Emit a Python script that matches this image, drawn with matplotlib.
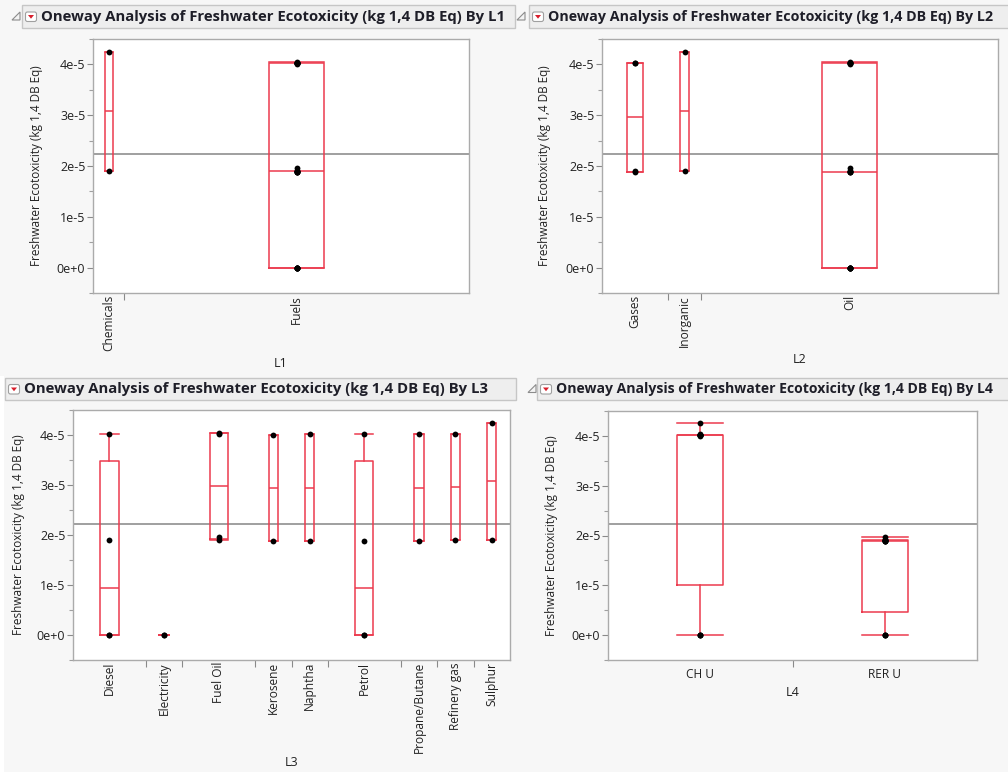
"""
JMP風 Oneway Analysis (箱ひげ図) 4パネルの再現
"""

import matplotlib.pyplot as plt
import numpy as np
from matplotlib.patches import Rectangle, Polygon, FancyBboxPatch
from matplotlib.ticker import MultipleLocator

plt.rcParams['font.family'] = ['Open Sans', 'DejaVu Sans']

# 観測値 (kg 1,4 DB Eq) 1行 = 1観測
values = [0.0, 0.0, 1.90e-5, 4.02e-5,
          0.0, 0.0,
          1.90e-5, 1.96e-5, 4.02e-5, 4.04e-5,
          1.88e-5, 4.00e-5,
          1.88e-5, 4.02e-5,
          0.0, 0.0, 1.88e-5, 4.02e-5,
          1.88e-5, 4.02e-5,
          1.90e-5, 4.02e-5,
          1.90e-5, 4.25e-5]

L1 = ['Fuels'] * 22 + ['Chemicals'] * 2

L2 = ['Oil', 'Oil', 'Oil', 'Oil',
      'Oil', 'Oil',
      'Oil', 'Oil', 'Oil', 'Oil',
      'Oil', 'Oil',
      'Oil', 'Oil',
      'Oil', 'Oil', 'Oil', 'Oil',
      'Gases', 'Gases',
      'Gases', 'Gases',
      'Inorganic', 'Inorganic']

L3 = ['Diesel', 'Diesel', 'Diesel', 'Diesel',
      'Electricity', 'Electricity',
      'Fuel Oil', 'Fuel Oil', 'Fuel Oil', 'Fuel Oil',
      'Kerosene', 'Kerosene',
      'Naphtha', 'Naphtha',
      'Petrol', 'Petrol', 'Petrol', 'Petrol',
      'Propane/Butane', 'Propane/Butane',
      'Refinery gas', 'Refinery gas',
      'Sulphur', 'Sulphur']

L4 = ['CH U', 'RER U', 'RER U', 'CH U',
      'CH U', 'RER U',
      'RER U', 'RER U', 'CH U', 'CH U',
      'RER U', 'CH U',
      'RER U', 'CH U',
      'CH U', 'RER U', 'RER U', 'CH U',
      'RER U', 'CH U',
      'RER U', 'CH U',
      'RER U', 'CH U']

ytick_values = [0.0, 1e-5, 2e-5, 3e-5, 4e-5]
ytick_labels = ['0e+0', '1e-5', '2e-5', '3e-5', '4e-5']

y_title = 'Freshwater Ecotoxicity (kg 1,4 DB Eq)'
head_title = 'Oneway Analysis of Freshwater Ecotoxicity (kg 1,4 DB Eq) By '

W, H = 1008, 772
RED = '#EC3B4E'
TXT = '#222222'
FRAME = '#ABABAB'

fig = plt.figure(figsize=(W / 100, H / 100), dpi=100)
fig.patch.set_facecolor('#F7F7F7')

# 背景用(ピクセル座標)
bg = fig.add_axes([0, 0, 1, 1], zorder=0)
bg.set_xlim(0, W)
bg.set_ylim(H, 0)
bg.axis('off')
bg.add_patch(Rectangle((0, 376), 4, H - 376, facecolor='white', edgecolor='none'))


def header(x0, x1, y0, y1, text, tri_x=None, size=10.7):
    yc = (y0 + y1) / 2
    bg.add_patch(Rectangle((x0, y0), x1 - x0, y1 - y0, facecolor='#EEEEEE',
                           edgecolor='#C6C6C6', lw=1))
    if tri_x is not None:
        bg.add_patch(Polygon([(tri_x, yc + 3.5), (tri_x + 8, yc - 4.5), (tri_x + 8, yc + 3.5)],
                             closed=True, facecolor='#F4F4F4', edgecolor='#8C8C8C', lw=0.8))
    ix = x0 + 3.5
    bg.add_patch(FancyBboxPatch((ix, yc - 4.5), 11, 9.5,
                                boxstyle='round,pad=0,rounding_size=2',
                                facecolor='white', edgecolor='#A0A0A0', lw=0.8))
    bg.add_patch(Polygon([(ix + 2.5, yc - 1.5), (ix + 8.5, yc - 1.5), (ix + 5.5, yc + 2.2)],
                         closed=True, facecolor='#D81E2C', edgecolor='none'))
    bg.text(x0 + 19, yc + 0.5, text, fontsize=size, fontweight='bold', color='#1E1E28',
            ha='left', va='center')


def oneway(rect, groups, name, rotate, ylab_x, xlab_y):
    x0, y0, x1, y1 = rect
    ax = fig.add_axes([x0 / W, 1 - y1 / H, (x1 - x0) / W, (y1 - y0) / H], zorder=2)
    ax.set_facecolor('white')

    cats = sorted(set(groups))
    counts = [groups.count(c) for c in cats]
    edges = np.concatenate([[0], np.cumsum(counts)])
    centers = (edges[:-1] + edges[1:]) / 2
    n_total = edges[-1]
    px_unit = (x1 - x0) / n_total
    widths = [min(0.25 * c, 55 / px_unit) for c in counts]

    vals = np.array(values)
    grp = np.array(groups)
    stats = []
    for c in cats:
        v = vals[grp == c]
        q1, med, q3 = np.quantile(v, [0.25, 0.5, 0.75], method='weibull')
        iqr = q3 - q1
        lo = v[v >= q1 - 1.5 * iqr].min()
        hi = v[v <= q3 + 1.5 * iqr].max()
        stats.append(dict(med=med, q1=q1, q3=q3, whislo=lo, whishi=hi, fliers=[]))

    lp = dict(color=RED, lw=1.1)
    ax.bxp(stats, positions=centers, widths=widths, capwidths=widths,
           showfliers=False, manage_ticks=False,
           boxprops=lp, medianprops=lp, whiskerprops=lp, capprops=lp)

    # 全体平均
    ax.axhline(vals.mean(), color='#858585', lw=1.1, zorder=1)

    for c, x in zip(cats, centers):
        v = vals[grp == c]
        ax.plot(np.full(len(v), x), v, 'o', color='black', ms=4.2, mew=0, zorder=5)

    ax.set_xlim(0, n_total)
    ax.set_ylim(-0.5e-5, 4.5e-5)
    ax.set_yticks(ytick_values, ytick_labels)
    ax.yaxis.set_minor_locator(MultipleLocator(0.5e-5))
    ax.set_xticks(centers, cats, rotation=90 if rotate else 0)
    ax.set_xticks(edges[1:-1], minor=True)

    ax.tick_params(axis='y', which='major', length=4.5, width=0.8, color='#8A8A8A',
                   labelsize=9, labelcolor=TXT, pad=1)
    ax.tick_params(axis='y', which='minor', length=3, width=0.8, color='#A0A0A0')
    ax.tick_params(axis='x', which='major', length=0, labelsize=8.6, labelcolor=TXT,
                   pad=1.5 if rotate else 6)
    ax.tick_params(axis='x', which='minor', length=5, width=0.8, color='#8A8A8A')
    for s in ax.spines.values():
        s.set_color(FRAME)
        s.set_linewidth(1.0)

    ax.text(ylab_x, 0.5, y_title, rotation=90, transform=ax.transAxes,
            ha='center', va='center', fontsize=8.5, color=TXT)
    ax.text(0.5, xlab_y, name, transform=ax.transAxes,
            ha='center', va='center', fontsize=9, color=TXT)
    return ax


header(22, 515, 5, 28, head_title + 'L1', tri_x=12)
header(529, 1020, 5, 28, head_title + 'L2', tri_x=517, size=10.3)
header(5, 516, 378, 400, head_title + 'L3')
header(537, 1020, 378, 400, head_title + 'L4', tri_x=528, size=10.1)

oneway((93, 39, 469, 293), L1, 'L1', True, -0.149, -0.276)
oneway((602, 39, 998, 293), L2, 'L2', True, -0.144, -0.26)
oneway((73, 410, 510, 660), L3, 'L3', True, -0.124, -0.412)
oneway((608, 411, 977, 660), L4, 'L4', False, -0.152, -0.1325)

fig.savefig('out.png', dpi=100, facecolor=fig.get_facecolor())
